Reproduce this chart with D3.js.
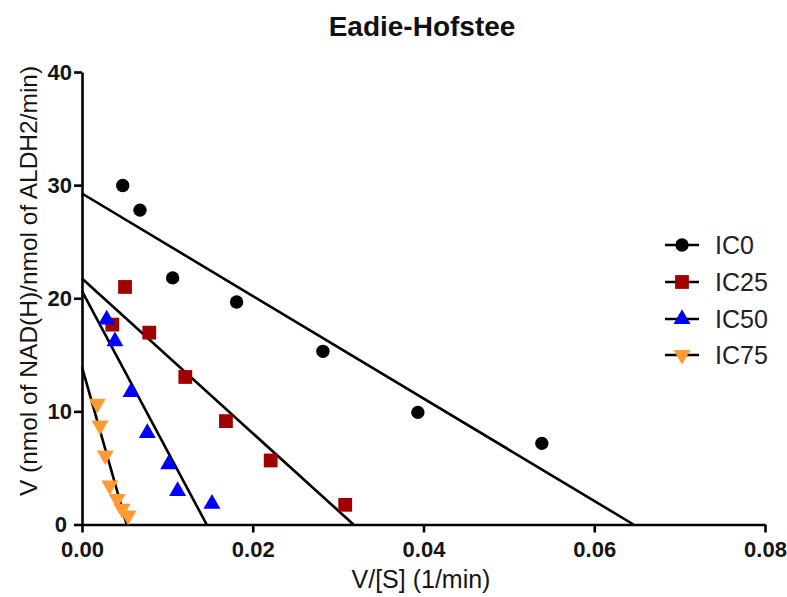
<!DOCTYPE html>
<html>
<head>
<meta charset="utf-8">
<script src="https://cdn.jsdelivr.net/npm/d3@7"></script>
<style>
  html, body { margin: 0; padding: 0; background: #fff; }
  svg { display: block; }
  text { font-family: "Liberation Sans", Arial, sans-serif; }
</style>
</head>
<body>
<svg id="chart" width="787" height="597"></svg>
<script>
// ---- data ----
const seriesNames = ["IC0", "IC25", "IC50", "IC75"];
const ic0X  = [0.00477, 0.00679, 0.01062, 0.01811, 0.02822, 0.03934, 0.05386];
const ic0Y  = [29.97, 27.79, 21.80, 19.67, 15.31, 9.91, 7.17];
const ic25X = [0.00355, 0.00504, 0.00788, 0.01210, 0.01686, 0.02210, 0.03083];
const ic25Y = [17.67, 21.00, 16.96, 13.04, 9.14, 5.66, 1.74];
const ic50X = [0.00289, 0.00386, 0.00574, 0.00765, 0.01015, 0.01120, 0.01522];
const ic50Y = [18.11, 16.19, 11.71, 8.08, 5.31, 2.95, 1.83];
const ic75X = [0.00179, 0.00211, 0.00273, 0.00325, 0.00411, 0.00469, 0.00540];
const ic75Y = [10.68, 8.76, 6.11, 3.45, 2.27, 1.39, 0.80];
// fitted lines: y-intercept (Vmax) and x-intercept (Vmax/Km)
const fitYIntercept = [29.26, 21.74, 20.62, 13.92];
const fitXIntercept = [0.0646, 0.0318, 0.0146, 0.00523];
const xTicks = [0, 0.02, 0.04, 0.06, 0.08];
const yTicks = [0, 10, 20, 30, 40];

const colors = ["#000000", "#a00000", "#0000ff", "#ff9a33"];
const symbols = [d3.symbolCircle, d3.symbolSquare, d3.symbolTriangle, d3.symbolTriangle];

const W = 787, H = 597;
const margin = {left: 82, right: 22, top: 72, bottom: 72.5};
const svg = d3.select("#chart");

const x = d3.scaleLinear().domain([0, 0.08]).range([margin.left, W - margin.right]);
const y = d3.scaleLinear().domain([0, 40]).range([H - margin.bottom, margin.top]);

// title
svg.append("text").attr("x", 422).attr("y", 36).attr("text-anchor", "middle")
  .attr("font-size", 28).attr("font-weight", "bold").attr("fill", "#111").text("Eadie-Hofstee");

// axes
const xAxis = svg.append("g").attr("transform", `translate(0,${y(0)})`)
  .call(d3.axisBottom(x).tickValues(xTicks).tickFormat(d3.format(".2f")).tickSize(8).tickPadding(9).tickSizeOuter(0));
const yAxis = svg.append("g").attr("transform", `translate(${x(0)},0)`)
  .call(d3.axisLeft(y).tickValues(yTicks).tickFormat(d3.format("d")).tickSize(8).tickPadding(2).tickSizeOuter(0));
[xAxis, yAxis].forEach(g => {
  g.selectAll("path, line").attr("stroke", "#000").attr("stroke-width", 2.6);
  g.selectAll("text").attr("font-size", 22).attr("font-weight", "bold").attr("fill", "#151515")
    .attr("font-family", "'Liberation Sans', Arial, sans-serif");
});
yAxis.selectAll(".tick").filter(d => d === 0).select("text").attr("dx", -5);

// axis labels
svg.append("text").attr("x", 421).attr("y", 588).attr("text-anchor", "middle")
  .attr("font-size", 25).attr("fill", "#151515").text("V/[S] (1/min)");
svg.append("text").attr("transform", `translate(37,281) rotate(-90)`)
  .attr("text-anchor", "middle").attr("font-size", 24.5).attr("fill", "#151515")
  .text("V (nmol of NAD(H)/nmol of ALDH2/min)");

// fit lines
const plot = svg.append("g");
fitYIntercept.forEach((b, i) => {
  plot.append("line")
    .attr("x1", x(0)).attr("y1", y(b))
    .attr("x2", x(fitXIntercept[i])).attr("y2", y(0))
    .attr("stroke", "#000").attr("stroke-width", 2.6);
});

// points
const allX = [ic0X, ic25X, ic50X, ic75X];
const allY = [ic0Y, ic25Y, ic50Y, ic75Y];
const sizes = [140, 190, 125, 125];
allX.forEach((xs, i) => {
  const sym = d3.symbol().type(symbols[i]).size(sizes[i]);
  xs.forEach((xv, j) => {
    plot.append("path").attr("d", sym())
      .attr("transform", `translate(${x(xv)},${y(allY[i][j])})${i === 3 ? " rotate(180)" : ""}`)
      .attr("fill", colors[i]);
  });
});

// legend
const legend = svg.append("g");
const legY = [245, 282, 319, 355];
seriesNames.forEach((name, i) => {
  const g = legend.append("g").attr("transform", `translate(682,${legY[i]})`);
  g.append("line").attr("x1", -17).attr("x2", 17).attr("stroke", "#000").attr("stroke-width", 2.6);
  g.append("path").attr("d", d3.symbol().type(symbols[i]).size(sizes[i])())
    .attr("transform", i === 3 ? "rotate(180)" : null).attr("fill", colors[i]);
  g.append("text").attr("x", 33).attr("y", 0).attr("dy", "0.35em")
    .attr("font-size", 25).attr("fill", "#222").text(name);
});
</script>
</body>
</html>
